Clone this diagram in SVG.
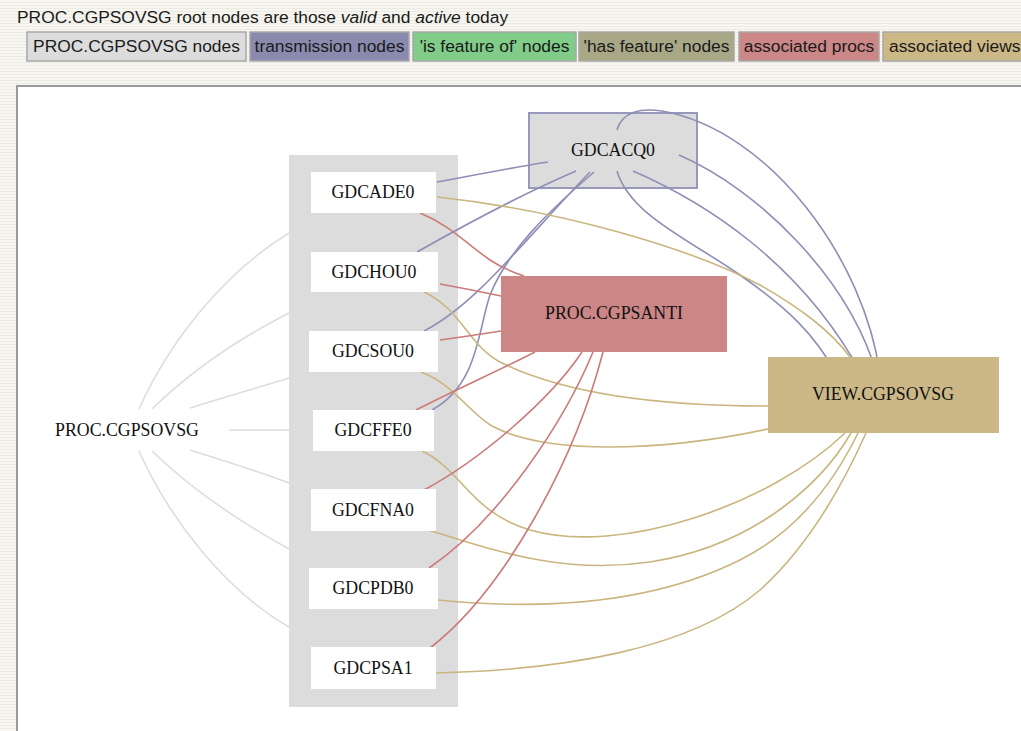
<svg xmlns="http://www.w3.org/2000/svg" width="1021" height="731" viewBox="0 0 1021 731">
<defs>
<pattern id="stripes" width="6" height="3" patternUnits="userSpaceOnUse">
<rect width="6" height="3" fill="#f7f6f0"/>
<rect y="2" width="6" height="1" fill="#ebeae3"/>
</pattern>
<style>
.hdr{font-family:"Liberation Sans",Arial,sans-serif;font-size:17.4px;fill:#1a1a1a}
.lg{stroke:#a8a8a8;stroke-width:1.5}
.nt{font-family:"Liberation Serif","Times New Roman",serif;font-size:17.8px;fill:#111;text-anchor:middle}
.nb{fill:#ffffff}
.e{fill:none;stroke-width:1.6}
.g{stroke:#dddddd}
.b{stroke:#8e8eb6}
.r{stroke:#cc7a7a}
.t{stroke:#c9b57e}
</style>
</defs>
<rect x="0" y="0" width="1021" height="731" fill="url(#stripes)"/>
<text class="hdr" x="17" y="23">PROC.CGPSOVSG root nodes are those <tspan font-style="italic">valid</tspan> and <tspan font-style="italic">active</tspan> today</text>
<g id="legend">
<rect class="lg" x="27" y="32" width="219" height="29" fill="#dcdcdc"/>
<text class="hdr" x="136.5" y="52" text-anchor="middle">PROC.CGPSOVSG nodes</text>
<rect class="lg" x="250" y="32" width="159" height="29" fill="#8a8aae"/>
<text class="hdr" x="329.5" y="52" text-anchor="middle">transmission nodes</text>
<rect class="lg" x="413" y="32" width="163" height="29" fill="#80cc88"/>
<text class="hdr" x="494.5" y="52" text-anchor="middle">'is feature of' nodes</text>
<rect class="lg" x="579" y="32" width="155" height="29" fill="#a8a887"/>
<text class="hdr" x="656.5" y="52" text-anchor="middle">'has feature' nodes</text>
<rect class="lg" x="739" y="32" width="140" height="29" fill="#cc8787"/>
<text class="hdr" x="809" y="52" text-anchor="middle">associated procs</text>
<rect class="lg" x="883" y="32" width="150" height="29" fill="#ccb887"/>
<text class="hdr" x="889" y="52">associated views</text>
</g>
<rect x="17" y="86" width="1010" height="650" fill="#ffffff" stroke="#9a9a9a" stroke-width="2"/>
<g id="cluster">
<rect x="289" y="155" width="169" height="552" fill="#dcdcdc"/>
</g>
<g id="GDCACQ0"><rect x="529" y="113" width="168" height="75" fill="#dcdcdc" stroke="#9898bc" stroke-width="2"/><text class="nt" x="613" y="156">GDCACQ0</text></g>
<g id="connectors">
<path class="e g" d="M139,409 C170,340 225,272 289,233"/>
<path class="e g" d="M152,409 C190,372 240,338 289,313"/>
<path class="e g" d="M190,408 C225,397 260,387 289,378"/>
<path class="e g" d="M229,430 L289,430"/>
<path class="e g" d="M190,450 C225,461 260,472 289,483"/>
<path class="e g" d="M152,451 C190,488 240,522 289,549"/>
<path class="e g" d="M139,451 C170,520 225,590 289,627"/>
<path class="e b" d="M437,182 C475,175 510,168 548,162"/>
<path class="e b" d="M417,252 C470,222 520,195 576,171"/>
<path class="e b" d="M424,331 C475,305 520,245 590,172"/>
<path class="e b" d="M432,410 C478,385 478,330 490,295 C508,250 550,210 594,172"/>
<path class="e b" d="M617,130 C622,111 642,108 662,111 C770,130 865,260 880,375"/>
<path class="e b" d="M679,155 C760,190 850,280 877,375"/>
<path class="e b" d="M633,171 C700,200 800,260 862,375"/>
<path class="e b" d="M617,171 C630,215 690,240 740,275 C790,310 815,335 837,375"/>
<path class="e t" d="M437,197 C560,210 690,248 760,285 C800,308 830,330 850,357"/>
<path class="e t" d="M424,292 C462,310 468,345 500,362 C560,392 650,406 768,406"/>
<path class="e t" d="M421,372 C455,385 468,412 492,426 C545,455 660,452 768,429"/>
<path class="e t" d="M422,451 C462,470 470,512 530,530 C620,556 770,505 845,433"/>
<path class="e t" d="M428,530 C495,550 560,575 650,562 C760,545 825,478 851,433"/>
<path class="e t" d="M438,600 C540,610 650,605 740,560 C800,530 835,480 858,433"/>
<path class="e t" d="M436,673 C560,670 690,650 760,590 C810,545 845,480 866,433"/>
<path class="e r" d="M420,213 C450,225 468,245 490,260 C502,268 512,272 524,276"/>
<path class="e r" d="M440,284 C462,288 482,292 501,296"/>
<path class="e r" d="M440,340 C462,337 482,334 501,331"/>
<path class="e r" d="M416,410 C455,390 500,370 535,352"/>
<path class="e r" d="M424,490 C480,460 550,400 582,352"/>
<path class="e r" d="M429,568 C500,520 565,420 593,352"/>
<path class="e r" d="M430,648 C505,590 575,460 603,352"/>
</g>
<g id="PROC.CGPSOVSG">
<text class="nt" x="127" y="436">PROC.CGPSOVSG</text>
</g>
<g id="GDCADE0"><rect class="nb" x="311" y="172" width="125" height="41"/><text class="nt" x="373" y="198">GDCADE0</text></g>
<g id="GDCHOU0"><rect class="nb" x="311" y="252" width="127" height="40"/><text class="nt" x="374" y="278">GDCHOU0</text></g>
<g id="GDCSOU0"><rect class="nb" x="309" y="331" width="129" height="41"/><text class="nt" x="373" y="357">GDCSOU0</text></g>
<g id="GDCFFE0"><rect class="nb" x="313" y="410" width="121" height="41"/><text class="nt" x="373" y="436">GDCFFE0</text></g>
<g id="GDCFNA0"><rect class="nb" x="311" y="489" width="125" height="42"/><text class="nt" x="373" y="516">GDCFNA0</text></g>
<g id="GDCPDB0"><rect class="nb" x="309" y="568" width="129" height="41"/><text class="nt" x="373" y="594">GDCPDB0</text></g>
<g id="GDCPSA1"><rect class="nb" x="311" y="647" width="125" height="42"/><text class="nt" x="373" y="674">GDCPSA1</text></g>
<g id="PROC.CGPSANTI"><rect x="501" y="276" width="226" height="76" fill="#cc8686"/><text class="nt" x="614" y="319">PROC.CGPSANTI</text></g>
<g id="VIEW.CGPSOVSG"><rect x="768" y="357" width="231" height="76" fill="#ccb887"/><text class="nt" x="883" y="400">VIEW.CGPSOVSG</text></g>
</svg>
